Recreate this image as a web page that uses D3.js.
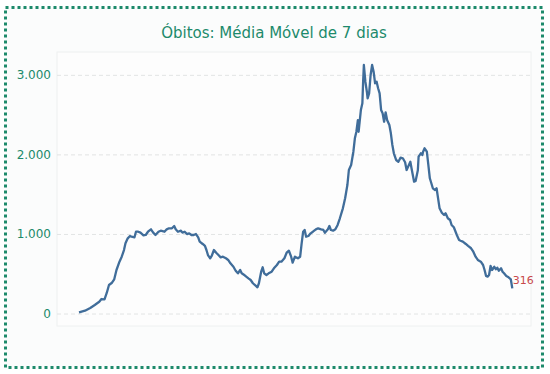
<!DOCTYPE html>
<html>
<head>
<meta charset="utf-8">
<script src="https://cdn.jsdelivr.net/npm/d3@7"></script>
<style>
  body { margin: 0; background: #ffffff; }
  svg { display: block; font-family: "DejaVu Sans", Verdana, sans-serif; }
</style>
</head>
<body>
<div id="chart"></div>
<script>
// days since first point, and 7-day moving average of deaths
var days = [0, 8, 15, 21, 27, 30, 34, 37, 40, 44, 47, 50, 54, 57, 60, 62, 65, 68, 70, 74,
    76, 79, 82, 86, 89, 92, 96, 99, 102, 106, 109, 114, 117, 120, 124, 127, 129, 132, 136, 138,
    141, 144, 147, 150, 153, 156, 159, 161, 165, 168, 170, 172, 175, 177, 180, 183, 186, 189, 192, 196,
    199, 202, 206, 209, 212, 215, 217, 221, 226, 229, 232, 236, 238, 240, 243, 245, 247, 250, 253, 257,
    260, 264, 267, 270, 274, 277, 280, 283, 285, 288, 292, 295, 297, 299, 301, 303, 306, 309, 312, 316,
    319, 323, 326, 328, 332, 334, 336, 339, 342, 345, 348, 352, 355, 358, 360, 363, 366, 368, 370, 372,
    373, 376, 378, 379, 380, 382, 384, 385, 387, 389, 391, 393, 395, 397, 399, 401, 403, 405, 407, 409,
    411, 414, 416, 418, 420, 423, 426, 429, 432, 435, 437, 439, 442, 444, 447, 449, 452, 453, 456, 458,
    459, 461, 464, 466, 468, 470, 472, 475, 477, 479, 481, 484, 487, 489, 492, 495, 497, 500, 504, 507,
    509, 512, 516, 519, 523, 526, 529, 532, 536, 539, 541, 543, 545, 547, 549, 551, 554, 556, 558, 560,
    563, 565, 567, 570, 573, 576, 578];
var deaths = [15, 35, 69, 107, 148, 182, 178, 258, 358, 387, 430, 547, 651, 714, 798, 882, 945, 974, 965, 958,
    1028, 1028, 1016, 983, 987, 1028, 1058, 1016, 987, 1028, 1041, 1028, 1058, 1071, 1071, 1100, 1058, 1028, 1041, 1016,
    1028, 999, 1008, 987, 987, 999, 958, 903, 874, 849, 798, 735, 694, 723, 798, 764, 735, 706, 714, 694,
    673, 631, 588, 538, 505, 547, 505, 480, 442, 421, 380, 346, 329, 380, 525, 581, 505, 484, 505, 525,
    568, 610, 651, 651, 694, 764, 789, 714, 639, 714, 694, 714, 882, 1028, 1050, 965, 974, 1008, 1028, 1058,
    1071, 1058, 1050, 1016, 1058, 1100, 1050, 1041, 1058, 1113, 1197, 1322, 1448, 1615, 1804, 1867, 2034, 2202, 2285, 2432,
    2285, 2558, 2642, 2914, 3124, 2914, 2788, 2705, 2768, 2998, 3124, 3040, 2894, 2914, 2831, 2768, 2558, 2517, 2411, 2529,
    2432, 2370, 2265, 2118, 2014, 1930, 1908, 1959, 1951, 1901, 1804, 1845, 1908, 1804, 1657, 1666, 1800, 1971, 2014, 1992,
    2034, 2077, 2034, 1867, 1700, 1637, 1574, 1552, 1574, 1448, 1322, 1267, 1238, 1260, 1197, 1175, 1113, 1084, 987, 924,
    915, 903, 874, 849, 820, 777, 714, 673, 651, 610, 547, 471, 463, 484, 597, 547, 588, 556, 576, 538,
    568, 525, 505, 471, 455, 430, 316];
var yTicks = [0, 1000, 2000, 3000];
var title = "Óbitos: Média Móvel de 7 dias";

var width = 550, height = 374;
var plot = {left: 57, right: 531, top: 52, bottom: 326};
var teal = "#1d8a6b";

var svg = d3.select("#chart").append("svg")
    .attr("width", width)
    .attr("height", height);

svg.append("rect")
    .attr("width", width).attr("height", height)
    .attr("fill", "#ffffff");

// dotted frame
svg.append("rect")
    .attr("x", 5.5).attr("y", 7.5)
    .attr("width", 537).attr("height", 360)
    .attr("fill", "#fbfcfc")
    .attr("stroke", teal)
    .attr("stroke-width", 3)
    .attr("stroke-dasharray", "3,3");

var x = d3.scaleLinear()
    .domain([0, d3.max(days)])
    .range([79, 512.3]);

var y = d3.scaleLinear()
    .domain([0, 3000])
    .range([313.5, 74.85]);

// plot area
svg.append("rect")
    .attr("x", plot.left).attr("y", plot.top)
    .attr("width", plot.right - plot.left).attr("height", plot.bottom - plot.top)
    .attr("fill", "#fdfdfd")
    .attr("stroke", "#eef0f0")
    .attr("stroke-width", 1);

// grid
var yAxis = d3.axisLeft(y)
    .tickValues(yTicks)
    .tickSize(-(plot.right - plot.left))
    .tickPadding(6)
    .tickFormat(function(d) { return d3.format(",")(d).replace(/,/g, "."); });

var gy = svg.append("g")
    .attr("transform", "translate(" + plot.left + ",0)")
    .call(yAxis);
gy.select(".domain").remove();
gy.selectAll(".tick line")
    .attr("stroke", "#e2e4e4")
    .attr("stroke-dasharray", "4,3");
gy.selectAll(".tick text")
    .attr("fill", teal)
    .attr("font-size", "12px")
    .attr("font-family", "DejaVu Sans, Verdana, sans-serif");

// line
var line = d3.line()
    .x(function(d, i) { return x(days[i]); })
    .y(function(d) { return y(d); });

svg.append("path")
    .datum(deaths)
    .attr("fill", "none")
    .attr("stroke", "#406d9a")
    .attr("stroke-width", 2.3)
    .attr("stroke-linejoin", "round")
    .attr("d", line);

// last value label
var last = deaths.length - 1;
svg.append("text")
    .attr("x", x(days[last]) + 0.5)
    .attr("y", y(deaths[last]) - 4.5)
    .attr("fill", "#c8494b")
    .attr("font-size", "11px")
    .text(deaths[last]);

// title
svg.append("text")
    .attr("x", 274)
    .attr("y", 38)
    .attr("text-anchor", "middle")
    .attr("fill", teal)
    .attr("font-size", "15px")
    .text(title);
</script>
</body>
</html>
